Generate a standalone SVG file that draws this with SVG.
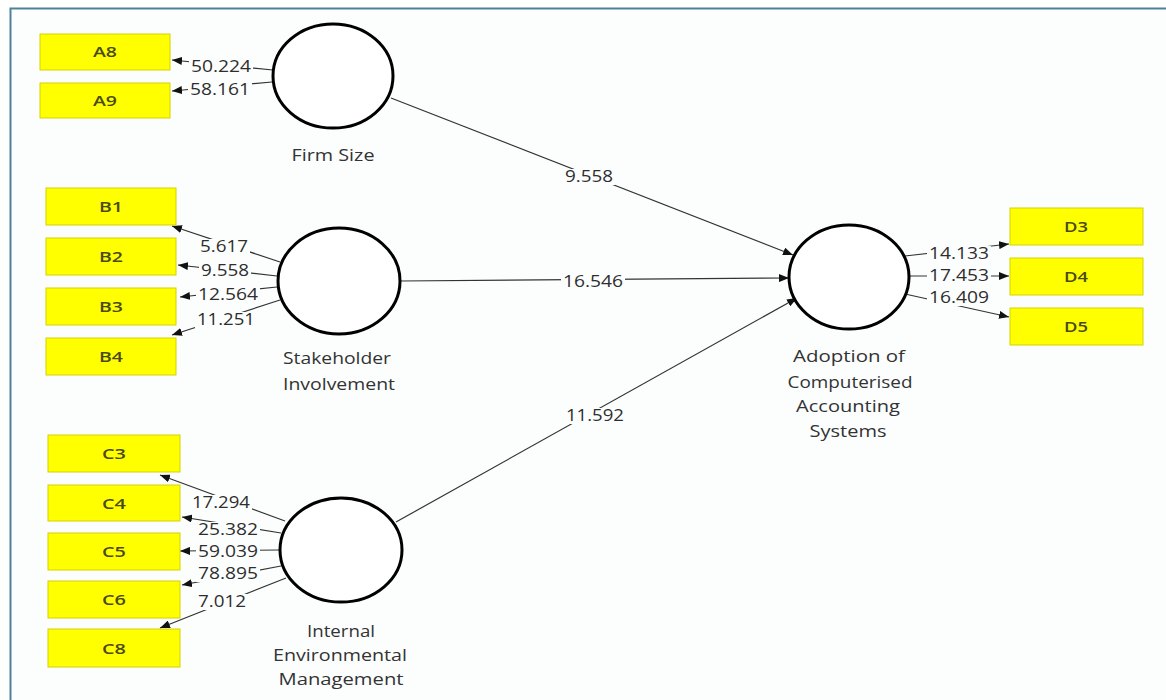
<svg xmlns="http://www.w3.org/2000/svg" width="1166" height="700" viewBox="0 0 1166 700">
<style>
.frame{fill:none;stroke:#4f8198;stroke-width:2}
.box{fill:#ffff00;stroke:#d2d200;stroke-width:1}
.btxt{font-family:"Open Sans","Liberation Sans",sans-serif;font-size:15px;font-weight:600;fill:#4a4a18;text-anchor:middle}
.lv{fill:#fff;stroke:#000;stroke-width:3}
.ltxt{font-family:"Open Sans","Liberation Sans",sans-serif;font-size:17px;fill:#333;text-anchor:middle}
.con{stroke:#333;stroke-width:1.2;fill:none;marker-end:url(#ah)}
.bg{fill:#fcfefe}
.num{font-family:"Open Sans","Liberation Sans",sans-serif;font-size:16px;fill:#2e2e2e;text-anchor:middle}
</style>
<defs>
<marker id="ah" markerUnits="userSpaceOnUse" markerWidth="10" markerHeight="8" refX="10" refY="4" orient="auto">
<path d="M0,0 L10,4 L0,8 Z" fill="#111"/>
</marker>
</defs>
<rect x="0" y="0" width="1166" height="700" fill="#ffffff"/>
<rect x="11" y="9" width="1160" height="700" fill="#fcfefe"/>
<path class="frame" d="M10.5,700 V8.5 H1166"/>

<g id="connectors">
<line class="con" x1="273" y1="70" x2="172" y2="60"/>
<line class="con" x1="272" y1="82" x2="172" y2="91"/>
<line class="con" x1="280" y1="262" x2="172" y2="226"/>
<line class="con" x1="277" y1="276" x2="178" y2="265"/>
<line class="con" x1="277" y1="287" x2="180" y2="297"/>
<line class="con" x1="280" y1="300" x2="172" y2="335"/>
<line class="con" x1="285" y1="521" x2="160" y2="475"/>
<line class="con" x1="281" y1="533" x2="182" y2="517"/>
<line class="con" x1="280" y1="550" x2="180" y2="551"/>
<line class="con" x1="281" y1="566" x2="182" y2="585"/>
<line class="con" x1="286" y1="578" x2="160" y2="628"/>
<line class="con" x1="905" y1="256" x2="1009" y2="244"/>
<line class="con" x1="909" y1="276" x2="1009" y2="276"/>
<line class="con" x1="905" y1="294" x2="1009" y2="317"/>
<line class="con" x1="391" y1="98" x2="793" y2="255"/>
<line class="con" x1="400" y1="281" x2="789" y2="278"/>
<line class="con" x1="396" y1="522" x2="797" y2="298"/>
<rect class="bg" x="189" y="59" width="64" height="16"/>
<rect class="bg" x="188" y="82" width="64" height="16"/>
<rect class="bg" x="198" y="239" width="52" height="16"/>
<rect class="bg" x="199" y="263" width="52" height="16"/>
<rect class="bg" x="196" y="287" width="64" height="16"/>
<rect class="bg" x="195" y="312" width="62" height="16"/>
<rect class="bg" x="190" y="495" width="62" height="16"/>
<rect class="bg" x="196" y="522" width="64" height="16"/>
<rect class="bg" x="196" y="544" width="64" height="16"/>
<rect class="bg" x="196" y="566" width="64" height="16"/>
<rect class="bg" x="196" y="594" width="52" height="16"/>
<rect class="bg" x="927" y="246" width="64" height="16"/>
<rect class="bg" x="927" y="268" width="64" height="16"/>
<rect class="bg" x="927" y="290" width="64" height="16"/>
<rect class="bg" x="563" y="169" width="52" height="16"/>
<rect class="bg" x="561" y="274" width="64" height="16"/>
<rect class="bg" x="564" y="408" width="62" height="16"/>
<text class="num" x="221" y="72" textLength="60" lengthAdjust="spacingAndGlyphs">50.224</text>
<text class="num" x="220" y="95" textLength="60" lengthAdjust="spacingAndGlyphs">58.161</text>
<text class="num" x="224" y="252" textLength="48" lengthAdjust="spacingAndGlyphs">5.617</text>
<text class="num" x="225" y="276" textLength="48" lengthAdjust="spacingAndGlyphs">9.558</text>
<text class="num" x="228" y="300" textLength="60" lengthAdjust="spacingAndGlyphs">12.564</text>
<text class="num" x="226" y="325" textLength="58" lengthAdjust="spacingAndGlyphs">11.251</text>
<text class="num" x="221" y="508" textLength="58" lengthAdjust="spacingAndGlyphs">17.294</text>
<text class="num" x="228" y="535" textLength="60" lengthAdjust="spacingAndGlyphs">25.382</text>
<text class="num" x="228" y="557" textLength="60" lengthAdjust="spacingAndGlyphs">59.039</text>
<text class="num" x="228" y="579" textLength="60" lengthAdjust="spacingAndGlyphs">78.895</text>
<text class="num" x="222" y="607" textLength="48" lengthAdjust="spacingAndGlyphs">7.012</text>
<text class="num" x="959" y="259" textLength="60" lengthAdjust="spacingAndGlyphs">14.133</text>
<text class="num" x="959" y="281" textLength="60" lengthAdjust="spacingAndGlyphs">17.453</text>
<text class="num" x="959" y="303" textLength="60" lengthAdjust="spacingAndGlyphs">16.409</text>
<text class="num" x="589" y="182" textLength="48" lengthAdjust="spacingAndGlyphs">9.558</text>
<text class="num" x="593" y="287" textLength="60" lengthAdjust="spacingAndGlyphs">16.546</text>
<text class="num" x="595" y="421" textLength="58" lengthAdjust="spacingAndGlyphs">11.592</text>
</g>

<g id="A8"><rect class="box" x="40" y="34" width="130" height="36"/><text class="btxt" x="105" y="57" textLength="24" lengthAdjust="spacingAndGlyphs">A8</text></g>
<g id="A9"><rect class="box" x="40" y="83" width="130" height="35"/><text class="btxt" x="105" y="106" textLength="24" lengthAdjust="spacingAndGlyphs">A9</text></g>
<g id="B1"><rect class="box" x="46" y="188" width="130" height="37"/><text class="btxt" x="111" y="212" textLength="24" lengthAdjust="spacingAndGlyphs">B1</text></g>
<g id="B2"><rect class="box" x="46" y="238" width="130" height="37"/><text class="btxt" x="111" y="262" textLength="24" lengthAdjust="spacingAndGlyphs">B2</text></g>
<g id="B3"><rect class="box" x="46" y="288" width="130" height="37"/><text class="btxt" x="111" y="312" textLength="24" lengthAdjust="spacingAndGlyphs">B3</text></g>
<g id="B4"><rect class="box" x="46" y="338" width="130" height="37"/><text class="btxt" x="111" y="362" textLength="24" lengthAdjust="spacingAndGlyphs">B4</text></g>
<g id="C3"><rect class="box" x="48" y="435" width="132" height="37"/><text class="btxt" x="114" y="459" textLength="24" lengthAdjust="spacingAndGlyphs">C3</text></g>
<g id="C4"><rect class="box" x="48" y="485" width="132" height="36"/><text class="btxt" x="114" y="509" textLength="24" lengthAdjust="spacingAndGlyphs">C4</text></g>
<g id="C5"><rect class="box" x="48" y="533" width="132" height="37"/><text class="btxt" x="114" y="557" textLength="24" lengthAdjust="spacingAndGlyphs">C5</text></g>
<g id="C6"><rect class="box" x="48" y="581" width="132" height="37"/><text class="btxt" x="114" y="605" textLength="24" lengthAdjust="spacingAndGlyphs">C6</text></g>
<g id="C8"><rect class="box" x="48" y="629" width="132" height="38"/><text class="btxt" x="114" y="654" textLength="24" lengthAdjust="spacingAndGlyphs">C8</text></g>
<g id="D3"><rect class="box" x="1010" y="208" width="133" height="37"/><text class="btxt" x="1076" y="232" textLength="24" lengthAdjust="spacingAndGlyphs">D3</text></g>
<g id="D4"><rect class="box" x="1010" y="258" width="133" height="37"/><text class="btxt" x="1076" y="282" textLength="24" lengthAdjust="spacingAndGlyphs">D4</text></g>
<g id="D5"><rect class="box" x="1010" y="308" width="133" height="37"/><text class="btxt" x="1076" y="332" textLength="24" lengthAdjust="spacingAndGlyphs">D5</text></g>

<g id="FirmSize"><ellipse class="lv" cx="333" cy="76" rx="60" ry="52"/><text class="ltxt" x="333" y="161" textLength="83" lengthAdjust="spacingAndGlyphs">Firm Size</text></g>
<g id="StakeholderInvolvement"><ellipse class="lv" cx="339" cy="281" rx="61" ry="53"/><text class="ltxt" x="337" y="364" textLength="108" lengthAdjust="spacingAndGlyphs">Stakeholder</text><text class="ltxt" x="339" y="390" textLength="112" lengthAdjust="spacingAndGlyphs">Involvement</text></g>
<g id="InternalEnvironmentalManagement"><ellipse class="lv" cx="341" cy="550" rx="61" ry="52"/><text class="ltxt" x="341" y="637" textLength="68" lengthAdjust="spacingAndGlyphs">Internal</text><text class="ltxt" x="340" y="661" textLength="134" lengthAdjust="spacingAndGlyphs">Environmental</text><text class="ltxt" x="341" y="685" textLength="125" lengthAdjust="spacingAndGlyphs">Management</text></g>
<g id="AdoptionCAS"><ellipse class="lv" cx="849" cy="277" rx="60" ry="52"/><text class="ltxt" x="849" y="362" textLength="112" lengthAdjust="spacingAndGlyphs">Adoption of</text><text class="ltxt" x="850" y="388" textLength="125" lengthAdjust="spacingAndGlyphs">Computerised</text><text class="ltxt" x="848" y="412" textLength="104" lengthAdjust="spacingAndGlyphs">Accounting</text><text class="ltxt" x="848" y="437" textLength="77" lengthAdjust="spacingAndGlyphs">Systems</text></g>
</svg>
